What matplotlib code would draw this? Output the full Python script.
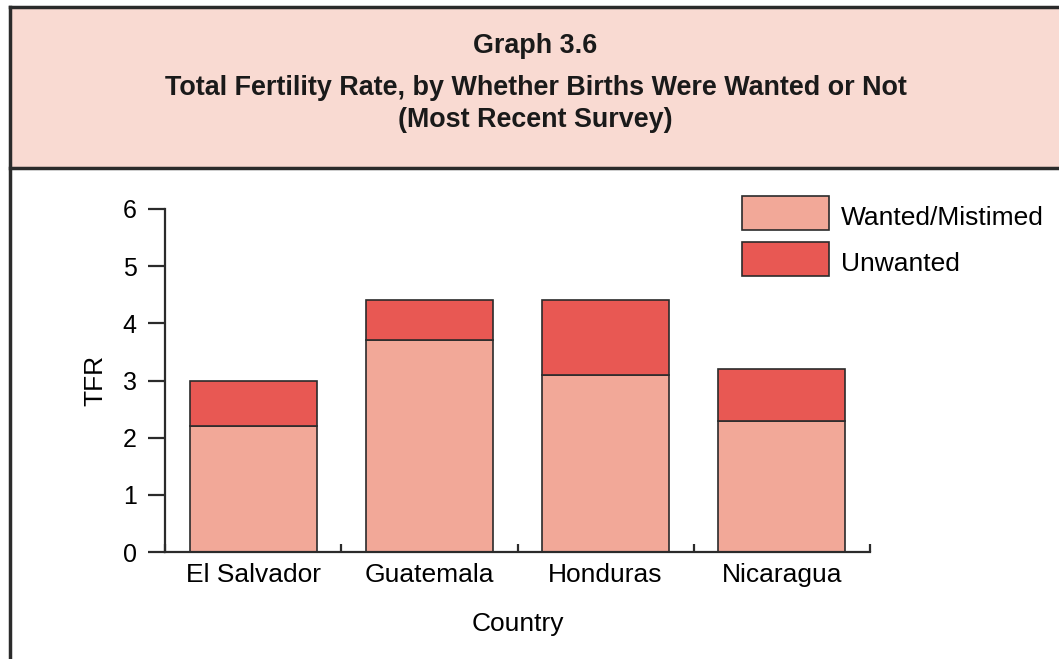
import matplotlib
matplotlib.use('Agg')
import matplotlib.pyplot as plt
from matplotlib.patches import Rectangle
from matplotlib.lines import Line2D
import numpy as np

plt.rcParams['font.family'] = ['Liberation Sans', 'DejaVu Sans']

countries = ['El Salvador', 'Guatemala', 'Honduras', 'Nicaragua']
wanted = [2.2, 3.7, 3.1, 2.3]
unwanted = [0.8, 0.7, 1.3, 0.9]

c_wanted = '#F2A898'
c_unwanted = '#E85853'
c_header = '#F9DAD2'
c_edge = '#2b2b2b'

W, H = 1059, 659
fig = plt.figure(figsize=(W / 100, H / 100), dpi=100)

# header panel and frame
fig.patches.append(Rectangle((10 / W, 1 - 168 / H), 1 - 10 / W, 161 / H,
                             transform=fig.transFigure, facecolor=c_header,
                             edgecolor='none', zorder=0))
fig.lines.append(Line2D([10 / W, 1], [1 - 7 / H, 1 - 7 / H], transform=fig.transFigure,
                        color=c_edge, lw=2.5))
fig.lines.append(Line2D([10 / W, 1], [1 - 168 / H, 1 - 168 / H], transform=fig.transFigure,
                        color=c_edge, lw=2.5))
fig.lines.append(Line2D([10 / W, 10 / W], [0, 1 - 7 / H], transform=fig.transFigure,
                        color=c_edge, lw=2.5))

cx = 535.5 / W
title_kw = dict(ha='center', va='baseline', fontsize=19.4, fontweight='bold',
                color='#1a1a1a')
fig.text(cx, 1 - 53 / H, 'Graph 3.6', **title_kw)
fig.text(cx, 1 - 95 / H, 'Total Fertility Rate, by Whether Births Were Wanted or Not',
         **title_kw)
fig.text(cx, 1 - 127 / H, '(Most Recent Survey)', **title_kw)

ax = fig.add_axes([165 / W, 1 - 552 / H, (870 - 165) / W, (552 - 209) / H])

x = np.arange(len(countries)) + 0.5
width = 0.72
ax.bar(x, wanted, width, color=c_wanted, edgecolor=c_edge, linewidth=1.2,
       label='Wanted/Mistimed')
ax.bar(x, unwanted, width, bottom=wanted, color=c_unwanted, edgecolor=c_edge,
       linewidth=1.2, label='Unwanted')

ax.set_xlim(0, 4)
ax.set_ylim(0, 6)
for s in ['top', 'right']:
    ax.spines[s].set_visible(False)
for s in ['left', 'bottom']:
    ax.spines[s].set_linewidth(1.6)
    ax.spines[s].set_color(c_edge)

ax.set_yticks(range(7))
ax.tick_params(axis='y', direction='out', length=12.5, width=1.6, color=c_edge,
               labelsize=18, pad=8)
ax.set_xticks(range(5))
ax.set_xticklabels([])
ax.tick_params(axis='x', which='major', direction='in', length=6, width=1.6,
               color=c_edge)
ax.set_xticks(x, minor=True)
ax.set_xticklabels(countries, minor=True)
ax.tick_params(axis='x', which='minor', length=0, labelsize=19, pad=8)

ax.set_ylabel('TFR', fontsize=19, labelpad=11)
ax.set_xlabel('Country', fontsize=19, labelpad=18)

leg = ax.legend(loc='upper left', bbox_to_anchor=(742 / W, 1 - 196 / H),
                bbox_transform=fig.transFigure, frameon=False, fontsize=19,
                handlelength=3.3, handleheight=1.62, handletextpad=0.45,
                labelspacing=0.45, borderpad=0, borderaxespad=0)
for t in leg.get_texts():
    t.set_y(-3)

fig.savefig('out.png', dpi=100)
